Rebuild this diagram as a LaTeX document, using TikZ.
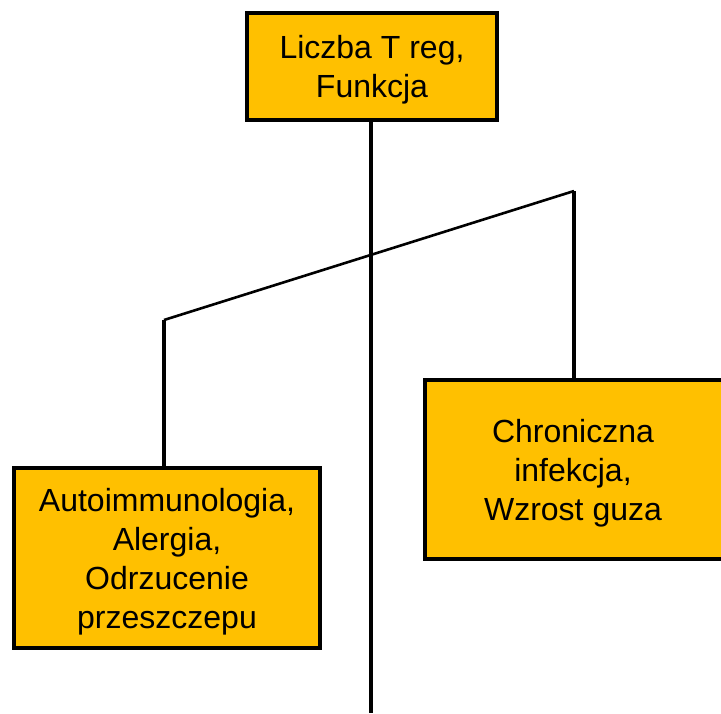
\documentclass[tikz,border=0pt]{standalone}
\usepackage{fontspec}
\setmainfont{Liberation Sans}
\definecolor{boxfill}{HTML}{FFC000}
\begin{document}
\begin{tikzpicture}[x=1pt,y=-1pt,
  card/.style={draw=black, line width=4pt, fill=boxfill, rectangle,
    inner sep=0pt},
  cardtext/.style={align=center, inner sep=0pt,
    font=\fontsize{32}{39}\selectfont},
  stem/.style={draw=black, line width=3.5pt},
  beam/.style={draw=black, line width=2.6pt, line join=miter}]
  \useasboundingbox (0,0) rectangle (721,713);
  \clip (0,0) rectangle (721,713);

  % boxes
  \node[card, minimum width=250pt, minimum height=107pt] (top) at (372,66.5) {};
  \node[card, minimum width=306pt, minimum height=180pt] (left) at (167,558) {};
  \node[card, minimum width=316pt, minimum height=179pt] (right) at (583,469.5) {};

  % box texts
  \node[cardtext] (top-t) at (372,70) {Liczba T reg,\\Funkcja};
  \node[cardtext] (left-t) at (167,561.5)
    {Autoimmunologia,\\Alergia,\\Odrzucenie\\przeszczepu};
  \node[cardtext] (right-t) at (573,473.5) {Chroniczna\\infekcja,\\Wzrost guza};

  % tilted balance beam
  \coordinate (bl) at (164,320);
  \coordinate (br) at (574,191);
  \coordinate (base) at (371,713);

  % central stem behind the beam
  \draw[stem] (top.south -| base) -- (base);

  % beam with hangers
  \draw[beam] (bl) -- (br);
  \draw[stem] (left.north -| bl) -- (bl);
  \draw[stem] (right.north -| br) -- (br);
\end{tikzpicture}
\end{document}
